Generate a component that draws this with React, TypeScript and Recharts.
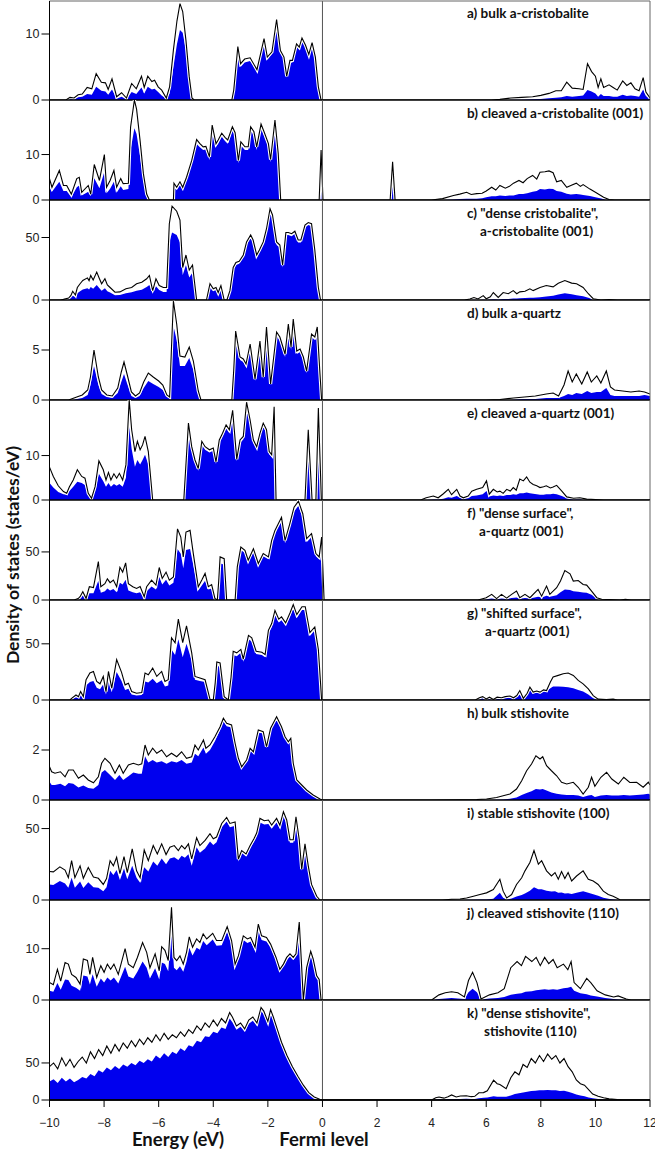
import React from 'react';
import { ComposedChart, Area, Line, XAxis, YAxis, ReferenceLine } from 'recharts';

// ---------- data (energy in eV, total DOS, partial DOS) ----------
const aE = [-10, -9.4, -9.25, -9.1, -8.95, -8.8, -8.62, -8.45, -8.29, -8.1,
  -7.95, -7.85, -7.71, -7.54, -7.36, -7.18, -6.99, -6.82, -6.63, -6.53,
  -6.4, -6.25, -6.15, -6.02, -5.89, -5.72, -5.6, -5.46, -5.33, -5.22,
  -5.12, -5.0, -4.88, -4.78, -4.7, -3.32, -3.25, -3.1, -3.0, -2.85,
  -2.65, -2.4, -2.14, -2.02, -1.85, -1.68, -1.54, -1.41, -1.31, -1.19,
  -1.1, -0.95, -0.85, -0.75, -0.62, -0.5, -0.38, -0.26, -0.15, -0.05,
  6.2, 6.5, 6.9, 7.3, 7.7, 8.0, 8.3, 8.55, 8.75, 8.95,
  9.15, 9.4, 9.55, 9.71, 9.86, 10.0, 10.1, 10.2, 10.3, 10.5,
  10.65, 10.8, 11.0, 11.15, 11.3, 11.45, 11.6, 11.75, 11.85, 12];
const aT = [0, 0, 0.4, 0.3, 0.8, 0.9, 1.9, 1.7, 4.0, 2.7,
  2.6, 1.6, 3.2, 0.5, 1.1, 0.3, 2.5, 1.7, 3.6, 1.9,
  3.6, 2.8, 3.0, 2.0, 1.5, 0.3, 2.0, 7.6, 12, 14.6,
  13.4, 9, 3.5, 0.3, 0, 0, 1.5, 8.1, 5.5, 6.2,
  6.4, 4.6, 9.3, 6.5, 7.3, 12.2, 7.5, 6.5, 3.6, 6.0,
  6.0, 8.5, 8.0, 9.4, 8.3, 6.9, 8.7, 6.5, 2.0, 0,
  0, 0.1, 0.3, 0.4, 0.5, 0.7, 1.0, 1.4, 1.4, 2.7,
  1.8, 1.7, 1.6, 5.5, 4.3, 3.6, 1.9, 3.2, 1.9, 2.3,
  1.9, 1.5, 2.9, 2.2, 2.6, 1.7, 1.4, 3.4, 1.2, 0.3];
const aB = [0, 0, 0.2, 0.1, 0.4, 0.5, 0.9, 0.8, 2.0, 1.4,
  1.3, 0.8, 1.6, 0.2, 0.5, 0.1, 1.2, 0.9, 1.9, 1.0,
  2.0, 1.6, 1.7, 1.2, 0.7, 0.2, 1.0, 5.0, 8.5, 10.6,
  10.2, 7.5, 3.0, 0.2, 0, 0, 1.3, 7.4, 5.0, 5.7,
  5.9, 4.3, 8.8, 6.1, 7.0, 11.8, 7.1, 6.2, 3.4, 5.6,
  5.7, 8.1, 7.6, 9.0, 7.9, 6.6, 8.4, 6.2, 1.9, 0,
  0, 0, 0.02, 0.05, 0.1, 0.15, 0.25, 0.35, 0.4, 0.6,
  0.5, 0.6, 0.7, 1.5, 1.3, 1.0, 0.5, 0.9, 0.6, 0.6,
  0.5, 0.5, 0.8, 0.6, 0.7, 0.6, 0.5, 1.6, 0.6, 0.2];

const bE = [-10, -9.91, -9.64, -9.49, -9.37, -9.2, -9.0, -8.91, -8.82, -8.58,
  -8.49, -8.36, -8.17, -7.99, -7.91, -7.78, -7.64, -7.54, -7.39, -7.3,
  -7.11, -7.03, -6.89, -6.81, -6.68, -6.56, -6.44, -6.34, -5.46, -5.44,
  -5.34, -5.22, -5.12, -4.98, -4.79, -4.61, -4.49, -4.37, -4.27, -4.14,
  -4.04, -3.9, -3.82, -3.69, -3.57, -3.47, -3.3, -3.2, -3.08, -2.99,
  -2.84, -2.72, -2.63, -2.51, -2.41, -2.25, -2.14, -1.98, -1.9, -1.74,
  -1.62, -1.53, -0.12, -0.05, 0.02, 2.48, 2.57, 2.66, 4.0, 4.4,
  4.8, 5.03, 5.28, 5.45, 5.65, 5.85, 6.0, 6.2, 6.35, 6.5,
  6.7, 6.85, 7.0, 7.2, 7.35, 7.5, 7.7, 7.85, 7.97, 8.15,
  8.3, 8.45, 8.58, 8.75, 8.95, 9.1, 9.3, 9.45, 9.55, 9.8,
  10.0, 10.3, 10.5, 10.7, 12];
const bT = [4.7, 2.8, 6.5, 3.2, 3.2, 1.3, 4.7, 5.0, 1.7, 3.2,
  1.3, 7.8, 4.3, 10, 2.8, 4.3, 6.5, 2.8, 4.7, 3.6,
  3.7, 16, 22, 20, 13, 5.8, 1.3, 0, 0, 3.7,
  2.8, 4.0, 2.8, 5.0, 8.7, 13.3, 12.4, 11.7, 11.8, 9.5,
  16.5, 12.4, 13.2, 14.7, 13.8, 13.2, 16.1, 14.8, 8.7, 12.8,
  11.7, 11.7, 16.1, 15, 11.7, 16.7, 15, 12.4, 8.9, 17.6,
  10.2, 0, 0, 11, 0, 0, 8.4, 0, 0, 0.3,
  1.0, 1.3, 1.7, 1.2, 1.4, 1.5, 2.0, 2.8, 2.2, 3.2,
  2.6, 3.0, 3.7, 4.3, 3.8, 4.7, 5.4, 4.6, 6.1, 6.2,
  6.4, 6.0, 4.0, 4.3, 2.8, 3.2, 3.7, 3.0, 3.4, 2.4,
  1.7, 0.6, 0.1, 0, 0];
const bB = [2.8, 1.8, 4.0, 2.0, 2.0, 0.6, 2.8, 3.2, 1.0, 1.8,
  0.8, 4.8, 2.6, 6.2, 1.5, 2.5, 4.0, 1.6, 3.0, 2.2,
  2.4, 11, 15.8, 14.5, 9.5, 4.2, 1.0, 0, 0, 3.0,
  2.3, 3.3, 2.3, 4.4, 8.0, 12.3, 11.6, 11.0, 11.1, 8.8,
  15.5, 11.7, 12.4, 13.9, 13.0, 12.4, 15.3, 14.0, 8.1, 12.0,
  11.0, 11.0, 15.3, 14.2, 11.0, 15.9, 14.2, 11.7, 8.3, 16.8,
  9.6, 0, 0, 10.8, 0, 0, 8.4, 0, 0, 0,
  0.1, 0.2, 0.3, 0.3, 0.3, 0.4, 0.6, 0.8, 0.8, 1.0,
  0.9, 1.0, 1.0, 1.3, 1.3, 1.5, 1.8, 2.0, 2.4, 2.3,
  2.5, 2.4, 2.0, 1.8, 1.4, 1.2, 1.3, 1.2, 1.1, 0.9,
  0.6, 0.2, 0, 0, 0];

const cE = [-10, -9.6, -9.49, -9.3, -9.22, -9.15, -9.05, -8.98, -8.88, -8.78,
  -8.61, -8.55, -8.49, -8.4, -8.27, -8.17, -8.09, -7.97, -7.88, -7.78,
  -7.6, -7.42, -7.2, -6.99, -6.81, -6.62, -6.44, -6.34, -6.22, -6.1,
  -5.98, -5.83, -5.71, -5.61, -5.51, -5.34, -5.22, -5.12, -5.0, -4.88,
  -4.76, -4.61, -4.25, -4.12, -4.0, -3.9, -3.82, -3.72, -3.6, -3.5,
  -3.39, -3.27, -3.17, -3.05, -2.9, -2.78, -2.63, -2.54, -2.41, -2.31,
  -2.17, -2.05, -1.92, -1.83, -1.68, -1.56, -1.46, -1.34, -1.25, -1.13,
  -1.01, -0.89, -0.79, -0.64, -0.52, -0.4, -0.28, -0.15, -0.07, 5.2,
  5.4, 5.55, 5.7, 5.89, 6.0, 6.15, 6.26, 6.44, 6.62, 6.81,
  6.99, 7.12, 7.23, 7.42, 7.6, 7.72, 7.97, 8.2, 8.45, 8.64,
  8.88, 9.13, 9.31, 9.55, 9.74, 9.92, 10.2, 10.5, 10.8, 12];
const cT = [0, 0, 0.5, 1.5, 3.5, 7.0, 4.0, 10, 13, 15.6,
  17.7, 15.5, 19.6, 16, 22.3, 17, 13, 17, 12, 10,
  6.2, 6.5, 9, 10, 13, 14.2, 17, 19.6, 7.5, 17,
  11.6, 10, 10, 61, 75, 71, 64, 26, 36, 24,
  28, 0, 0, 13, 9, 10, 6, 11.6, 0, 0,
  7.5, 26, 30, 31, 36, 46.5, 52, 48, 36, 40,
  46.5, 57, 73, 68, 46.5, 44, 28, 54, 54, 53,
  55, 48, 48, 60, 62, 61, 40, 10, 0, 0,
  0.8, 2.0, 0.8, 3.5, 1.0, 2.5, 6.0, 2.0, 6.0, 5.0,
  7.5, 5.0, 6.5, 7.0, 9.0, 7.5, 10, 11.6, 10.5, 13.4,
  15.6, 13.5, 13, 10, 5, 1.0, 0, 0.3, 0, 0];
const cB = [0, 0, 0.3, 0.8, 1.8, 3.5, 2.5, 5.5, 7, 8.5,
  9.5, 8.5, 10.5, 9, 12, 9.5, 7.5, 9.5, 7, 6,
  3.8, 4, 5.5, 6.2, 7.5, 8.3, 10.5, 12, 5, 11,
  8, 6.5, 6.5, 46, 54, 52, 46, 20, 28, 18,
  22, 0, 0, 10, 7, 8, 5, 9.5, 0, 0,
  6.5, 24, 28, 29, 34, 44, 50, 46, 34, 38,
  44, 55, 71, 66, 44, 42, 26, 52, 52, 51,
  53, 46, 46, 58, 60, 59, 38, 9, 0, 0,
  0.1, 0.2, 0.1, 0.3, 0.3, 0.4, 0.6, 0.5, 0.8, 0.9,
  1.2, 1.2, 1.4, 1.6, 1.8, 1.8, 2.2, 2.8, 3.4, 4.4,
  5.4, 4.6, 3.8, 3.0, 1.8, 0.5, 0, 0, 0, 0];

const dE = [-10, -9.3, -9.0, -8.8, -8.6, -8.5, -8.37, -8.21, -8.09, -7.9,
  -7.7, -7.5, -7.37, -7.27, -7.15, -7.0, -6.85, -6.7, -6.55, -6.38,
  -6.2, -6.0, -5.85, -5.7, -5.6, -5.52, -5.46, -5.34, -5.22, -5.04,
  -4.88, -4.73, -4.55, -4.45, -3.32, -3.25, -3.18, -3.02, -2.9, -2.8,
  -2.65, -2.47, -2.29, -2.17, -2.05, -1.9, -1.68, -1.56, -1.37, -1.25,
  -1.15, -1.07, -0.94, -0.82, -0.7, -0.58, -0.4, -0.28, -0.19, -0.1,
  -0.03, 6.0, 6.5, 7.0, 7.4, 7.8, 8.2, 8.45, 8.65, 8.85,
  9.0, 9.15, 9.3, 9.5, 9.7, 9.85, 10.05, 10.2, 10.4, 10.55,
  10.7, 11.0, 11.3, 11.6, 11.8, 12];
const dT = [0, 0, 0.3, 0.5, 1.0, 2.3, 5.0, 2.3, 1.0, 0.5,
  0.4, 1.2, 2.8, 3.8, 2.5, 0.8, 0.4, 0.7, 1.8, 2.7,
  2.3, 1.9, 1.5, 0.5, 0.3, 6, 9.9, 7.6, 4.4, 4.3,
  5.3, 3.9, 0.9, 0, 0, 3.0, 6.9, 4.3, 4.1, 3.6,
  5.6, 2.1, 5.9, 2.3, 7.3, 1.6, 6.8, 6.3, 4.6, 7.6,
  5.3, 8.1, 4.9, 5.1, 4.3, 2.9, 6.6, 6.3, 7.3, 3.0,
  0, 0, 0.05, 0.2, 0.3, 0.4, 0.6, 0.7, 0.4, 1.5,
  2.9, 1.8, 2.6, 1.6, 2.8, 1.8, 2.4, 1.7, 2.9, 1.3,
  1.0, 0.9, 0.8, 0.9, 0.8, 0.6];
const dB = [0, 0, 0.1, 0.2, 0.5, 1.5, 3.4, 1.5, 0.6, 0.3,
  0.2, 0.7, 1.8, 2.6, 1.6, 0.4, 0.2, 0.4, 1.2, 1.9,
  1.6, 1.3, 1.0, 0.3, 0.2, 5, 7.4, 6.0, 3.4, 3.4,
  4.2, 3.0, 0.6, 0, 0, 2.8, 6.5, 4.0, 3.8, 3.3,
  5.3, 1.9, 5.5, 2.1, 6.9, 1.5, 6.4, 5.9, 4.3, 7.2,
  5.0, 7.7, 4.6, 4.8, 4.0, 2.7, 6.3, 6.0, 7.0, 2.8,
  0, 0, 0, 0.05, 0.1, 0.1, 0.2, 0.2, 0.2, 0.4,
  0.6, 0.5, 0.7, 0.6, 0.9, 0.7, 0.8, 0.8, 1.2, 0.5,
  0.4, 0.4, 0.4, 0.4, 0.5, 0.4];

const eE = [-10, -9.86, -9.68, -9.49, -9.37, -9.27, -9.13, -8.98, -8.82, -8.7,
  -8.58, -8.46, -8.33, -8.19, -8.03, -7.93, -7.84, -7.75, -7.64, -7.54,
  -7.44, -7.32, -7.2, -7.08, -6.99, -6.87, -6.78, -6.68, -6.59, -6.5,
  -6.38, -6.22, -5.08, -4.91, -4.79, -4.67, -4.55, -4.42, -4.3, -4.14,
  -4.0, -3.9, -3.78, -3.66, -3.53, -3.41, -3.29, -3.14, -3.02, -2.9,
  -2.78, -2.65, -2.53, -2.41, -2.29, -2.17, -2.05, -1.95, -1.86, -1.77,
  -1.7, -0.64, -0.52, -0.38, -0.24, -0.15, -0.04, 3.6, 3.8, 4.06,
  4.24, 4.43, 4.61, 4.73, 4.92, 5.04, 5.16, 5.34, 5.47, 5.65,
  5.87, 6.01, 6.11, 6.26, 6.4, 6.5, 6.62, 6.75, 6.88, 6.99,
  7.1, 7.23, 7.36, 7.48, 7.6, 7.72, 7.85, 7.97, 8.1, 8.2,
  8.35, 8.45, 8.58, 8.77, 8.95, 9.2, 9.43, 9.68, 10.0, 10.3, 12];
const eT = [7.4, 5.3, 3.2, 1.9, 1.5, 3.0, 4.5, 6.8, 5.3, 4.9,
  1.5, 0.4, 3.0, 8.8, 6.8, 4.5, 6.2, 4.5, 5.9, 4.9,
  6.0, 4.5, 7.9, 22.5, 15.8, 10.9, 13.2, 11.3, 12.4, 14.3,
  10.9, 0, 0, 17.3, 12, 9, 7.1, 13.2, 12, 11.3,
  11.7, 8.6, 13.5, 15, 16.9, 15.8, 20.2, 9.2, 13.5, 14.3,
  22, 18, 13.5, 12, 15, 17.3, 15.8, 10.9, 10.2, 21,
  0, 0, 15.8, 0, 0, 20.7, 0, 0, 0.5, 0.9,
  0.5, 1.4, 2.4, 1.2, 2.4, 0.9, 0.5, 0.9, 2.0, 2.4,
  2.8, 4.3, 1.3, 2.4, 1.8, 2.0, 1.5, 2.4, 2.0, 2.8,
  2.2, 4.7, 4.3, 5.2, 4.0, 3.5, 3.2, 2.8, 3.0, 3.2,
  2.7, 2.9, 3.3, 2.0, 0.7, 0.4, 0.5, 0.2, 0.1, 0, 0];
const eB = [3.8, 2.8, 1.8, 1.3, 1.2, 2.0, 3.0, 4.1, 3.8, 3.4,
  1.0, 0.3, 2.0, 5.9, 4.2, 3.0, 3.8, 3.0, 3.6, 3.2,
  3.6, 3.0, 5.0, 16.5, 11.5, 7.5, 9.0, 8.0, 9.0, 10.2,
  8.0, 0, 0, 16.5, 11.3, 8.4, 6.6, 12.5, 11.3, 10.7,
  11.1, 8.1, 12.8, 14.3, 16.1, 15.0, 19.4, 8.7, 12.8, 13.6,
  21.2, 17.2, 12.8, 11.4, 14.3, 16.5, 15.0, 10.3, 9.7, 20.2,
  0, 0, 15.2, 0, 0, 20, 0, 0, 0, 0.1,
  0.1, 0.3, 0.6, 0.5, 0.9, 0.5, 0.3, 0.4, 0.9, 1.0,
  1.3, 2.0, 0.8, 1.0, 0.9, 1.0, 0.9, 1.1, 1.1, 1.3,
  1.2, 1.5, 1.5, 1.7, 1.5, 1.4, 1.3, 1.2, 1.2, 1.3,
  1.3, 1.4, 1.3, 0.9, 0.4, 0.2, 0.2, 0.1, 0, 0, 0];

const fE = [-10, -9.1, -8.95, -8.88, -8.78, -8.66, -8.54, -8.39, -8.21, -8.12,
  -7.97, -7.88, -7.78, -7.66, -7.54, -7.42, -7.32, -7.21, -7.11, -6.95,
  -6.81, -6.68, -6.53, -6.44, -6.26, -6.1, -5.98, -5.87, -5.73, -5.61,
  -5.46, -5.31, -5.19, -5.1, -5.0, -4.85, -4.73, -4.55, -4.42, -4.3,
  -4.18, -4.06, -3.94, -3.85, -3.8, -3.75, -3.6, -3.51, -3.2, -3.12,
  -2.99, -2.84, -2.72, -2.53, -2.35, -2.17, -1.98, -1.86, -1.74, -1.5,
  -1.37, -1.2, -1.04, -0.88, -0.72, -0.58, -0.4, -0.24, -0.12, -0.03,
  0.06, 5.7, 6.0, 6.2, 6.38, 6.56, 6.75, 6.93, 7.11, 7.23,
  7.42, 7.6, 7.9, 8.03, 8.21, 8.33, 8.58, 8.72, 8.88, 9.07,
  9.19, 9.37, 9.55, 9.68, 9.86, 10.05, 10.23, 10.5, 10.9, 11.1,
  11.3, 12];
const fT = [0, 0, 1.5, 3.4, 8.6, 1.7, 13.8, 13, 40, 13.8,
  17, 22, 18, 20.7, 13.8, 34, 29, 38.6, 17, 13.8,
  12, 14, 3.4, 13.8, 20.7, 15.5, 33.8, 22.4, 29, 20.7,
  24, 74, 65.5, 44.8, 70.7, 72.4, 48, 13.8, 20.7, 27.6,
  13.8, 16, 1.7, 0, 20, 44.8, 43, 0, 0, 34.5,
  55, 51.7, 41.4, 53.4, 38, 48.3, 44.8, 62, 72.4, 86,
  62, 79, 96.6, 102.8, 89.7, 63.8, 69, 48.3, 44.8, 65.5,
  0, 0, 2.4, 5.9, 1.5, 5.9, 2.0, 5.9, 9.3, 2.4,
  5.9, 2.4, 11, 4, 14.5, 5.9, 12.8, 19.7, 30.7, 27.2,
  19.7, 20.3, 16.2, 15.5, 9.3, 2.4, 0.7, 0.5, 0, 0.7,
  0, 0];
const fB = [0, 0, 0.5, 1.5, 5, 0.8, 7, 7, 20, 7.5,
  9, 12, 10, 11.5, 8, 18, 16, 21, 10, 8,
  7, 8, 2, 9, 14, 11, 24, 16, 21, 15,
  18, 53, 48, 33, 52, 53, 36, 10, 15, 20,
  11, 12, 1, 0, 18, 38, 37, 0, 0, 32,
  52, 49, 39, 50.5, 36, 45.5, 42.5, 59, 69, 82,
  59, 75, 92, 98, 85, 60, 65.5, 45.5, 42.5, 62,
  0, 0, 0.8, 1.5, 0.8, 1.5, 1.0, 2.0, 2.5, 1.2,
  2.0, 1.5, 3.5, 2.5, 4.5, 3.5, 5, 8, 10.8, 10.5,
  9, 8.5, 7.8, 7.5, 5.5, 1.5, 0.3, 0.2, 0, 0,
  0, 0];

const gE = [-10, -9.25, -9.19, -9.03, -8.94, -8.86, -8.76, -8.66, -8.52, -8.39,
  -8.27, -8.15, -8.03, -7.93, -7.84, -7.72, -7.54, -7.36, -7.23, -7.11,
  -6.99, -6.81, -6.62, -6.5, -6.38, -6.22, -6.07, -5.89, -5.77, -5.65,
  -5.53, -5.4, -5.28, -5.12, -4.98, -4.79, -4.67, -4.49, -4.3, -4.12,
  -4.0, -3.93, -3.87, -3.75, -3.6, -3.45, -3.35, -3.27, -3.14, -2.99,
  -2.9, -2.71, -2.59, -2.43, -2.22, -2.1, -1.98, -1.86, -1.74, -1.6,
  -1.5, -1.35, -1.19, -1.07, -0.94, -0.75, -0.63, -0.46, -0.28, -0.15,
  -0.03, 5.6, 5.75, 5.87, 6.0, 6.12, 6.26, 6.4, 6.56, 6.7,
  6.87, 7.0, 7.12, 7.23, 7.36, 7.5, 7.6, 7.72, 7.85, 7.97,
  8.1, 8.21, 8.35, 8.45, 8.64, 8.82, 9.0, 9.19, 9.37, 9.55,
  9.74, 9.92, 10.1, 10.4, 10.65, 10.8, 12];
const gT = [0, 0, 1.5, 4.5, 3, 7.5, 3, 18, 24, 25.4,
  16.5, 14.4, 21, 7.5, 25.4, 10.5, 36, 24.6, 13.5, 15,
  7.5, 6, 6.6, 24, 22.5, 28.4, 21, 25.4, 16.5, 18,
  55.4, 50.9, 72, 51, 66, 42, 21, 19.5, 18, 0.6,
  0, 15, 33.8, 33, 3, 0, 20, 43.4, 42, 45,
  36.5, 57.5, 55.4, 43.4, 42.5, 40.4, 62, 68, 79.7, 72,
  74, 68.6, 77.5, 85, 76, 83, 83, 60, 65, 45,
  0, 0, 2.0, 3.0, 1.0, 2.5, 0.5, 2.5, 2.0, 3.0,
  3.5, 2.0, 4.0, 8.4, 1.5, 6, 11.4, 7, 8, 7,
  9, 8.4, 16, 20.4, 21.9, 23.4, 24, 21.9, 17.4, 14.4,
  9.9, 3.9, 0.8, 0.3, 0.8, 0, 0];
const gB = [0, 0, 0.8, 2.5, 1.5, 4.5, 1.5, 13, 16, 17,
  11, 9.5, 14, 5, 17, 7, 25, 17, 9, 10,
  5, 4, 4.5, 16.5, 15.5, 19, 15, 17.5, 12, 13,
  45, 40, 54, 38, 50, 35, 18, 17, 16, 0.5,
  0, 14, 30, 30, 2.5, 0, 18, 40, 39, 42,
  34, 54, 52, 41, 40, 38, 59, 65, 76, 69,
  71, 66, 74, 82, 73, 80, 80, 57, 62, 43,
  0, 0, 1.5, 2.5, 0.5, 1.8, 0.3, 1.8, 1.5, 2.2,
  2.5, 1.5, 3.0, 5, 1.0, 4, 9.5, 6, 6.5, 6.5,
  7.5, 8, 10.5, 12, 12, 11.8, 11.4, 10.5, 8.8, 7.5,
  5.0, 1.5, 0.2, 0, 0, 0, 0];

const hE = [-10, -9.92, -9.8, -9.6, -9.43, -9.3, -9.13, -8.94, -8.76, -8.58,
  -8.39, -8.21, -8.09, -7.97, -7.78, -7.6, -7.44, -7.3, -7.11, -6.93,
  -6.74, -6.62, -6.5, -6.38, -6.22, -6.07, -5.89, -5.71, -5.53, -5.34,
  -5.16, -4.98, -4.79, -4.67, -4.55, -4.36, -4.27, -4.12, -3.94, -3.75,
  -3.63, -3.51, -3.33, -3.2, -3.08, -2.96, -2.78, -2.65, -2.53, -2.35,
  -2.17, -2.05, -1.9, -1.68, -1.5, -1.37, -1.25, -1.16, -1.07, -0.94,
  -0.76, -0.58, -0.34, -0.09, 0, 4.0, 5.0, 5.65, 6.01, 6.38,
  6.62, 6.87, 7.11, 7.3, 7.48, 7.66, 7.82, 7.97, 8.07, 8.21,
  8.39, 8.58, 8.76, 8.95, 9.19, 9.37, 9.55, 9.74, 9.86, 9.98,
  10.2, 10.41, 10.6, 10.84, 11.04, 11.26, 11.51, 11.75, 11.94, 12];
const hT = [1.33, 1.13, 1.07, 1.13, 0.93, 1.2, 1.2, 0.87, 1.0, 0.8,
  0.69, 0.93, 1.47, 1.67, 1.47, 1.07, 1.4, 1.07, 1.4, 1.47,
  1.4, 1.45, 2.2, 1.8, 2.07, 1.87, 2.0, 1.73, 1.87, 1.73,
  1.93, 1.67, 1.73, 2.2, 2.0, 2.4, 2.07, 2.2, 2.53, 2.93,
  3.27, 3.07, 3.0, 2.27, 1.67, 1.33, 1.6, 2.07, 1.93, 2.8,
  2.73, 2.13, 2.87, 3.33, 2.93, 2.53, 2.33, 2.47, 1.47, 0.8,
  0.6, 0.4, 0.2, 0.04, 0, 0, 0.01, 0.02, 0.04, 0.1,
  0.17, 0.24, 0.44, 0.77, 1.17, 1.44, 1.77, 1.64, 1.73, 1.37,
  1.17, 0.97, 0.71, 0.64, 0.71, 0.51, 0.24, 0.51, 0.91, 0.55,
  0.91, 1.11, 0.84, 0.64, 0.91, 0.7, 0.71, 0.51, 0.71, 0.6];
const hB = [0.73, 0.6, 0.6, 0.65, 0.55, 0.68, 0.65, 0.5, 0.58, 0.48,
  0.45, 0.6, 1.1, 1.2, 1.0, 0.8, 1.0, 0.8, 0.95, 1.1,
  1.05, 1.05, 1.75, 1.5, 1.6, 1.5, 1.55, 1.45, 1.55, 1.5,
  1.6, 1.45, 1.5, 1.85, 1.75, 2.1, 1.85, 2.0, 2.35, 2.8,
  3.15, 2.95, 2.9, 2.2, 1.62, 1.3, 1.55, 2.0, 1.88, 2.72,
  2.65, 2.07, 2.8, 3.25, 2.85, 2.45, 2.27, 2.4, 1.43, 0.78,
  0.58, 0.39, 0.19, 0.04, 0, 0, 0, 0, 0, 0.01,
  0.02, 0.05, 0.1, 0.2, 0.28, 0.35, 0.44, 0.42, 0.44, 0.38,
  0.3, 0.25, 0.22, 0.2, 0.2, 0.18, 0.12, 0.18, 0.2, 0.12,
  0.18, 0.2, 0.18, 0.18, 0.2, 0.18, 0.2, 0.22, 0.25, 0.22];

const iE = [-10, -9.86, -9.62, -9.43, -9.31, -9.19, -9.07, -8.88, -8.76, -8.58,
  -8.39, -8.21, -8.03, -7.91, -7.78, -7.66, -7.54, -7.42, -7.27, -7.15,
  -6.97, -6.81, -6.68, -6.53, -6.38, -6.2, -6.05, -5.89, -5.73, -5.59,
  -5.43, -5.28, -5.16, -5.04, -4.91, -4.79, -4.61, -4.49, -4.3, -4.12,
  -4.0, -3.88, -3.69, -3.51, -3.39, -3.2, -3.08, -2.96, -2.8, -2.65,
  -2.51, -2.41, -2.29, -2.13, -1.98, -1.86, -1.68, -1.56, -1.43, -1.31,
  -1.19, -1.07, -0.97, -0.85, -0.76, -0.64, -0.52, -0.4, -0.21, -0.09,
  4.4, 4.73, 5.04, 5.28, 5.53, 5.77, 6.01, 6.26, 6.5, 6.62,
  6.75, 6.93, 7.11, 7.3, 7.42, 7.6, 7.75, 7.91, 8.03, 8.21,
  8.39, 8.52, 8.64, 8.76, 8.88, 9.0, 9.13, 9.31, 9.55, 9.74,
  9.92, 10.1, 10.29, 10.47, 10.65, 10.9, 11.1, 12];
const iT = [19.9, 19.7, 23.2, 20.9, 15.6, 27.5, 15.6, 23.9, 15.2, 22.7,
  16.1, 15.2, 10.9, 15, 27.5, 23.9, 29.9, 18.5, 30.3, 19.2,
  35.8, 20.4, 15.6, 35, 27.5, 38.1, 32.2, 39.3, 31.8, 37,
  38.1, 34.6, 38.1, 35.8, 39.3, 28.7, 43.6, 38.1, 41.7, 46.4,
  42.9, 44.1, 53.6, 57.8, 53.6, 54.7, 28.7, 34.6, 32.2, 38.1,
  42.9, 46.9, 57.1, 55.5, 56, 52.4, 57.1, 52.4, 61.8, 56,
  42.2, 42.2, 58.3, 42.2, 21.6, 39.3, 23.9, 10.9, 2.6, 0,
  0, 0.5, 0.7, 1.4, 2.6, 3.8, 5, 7.3, 14.5, 6.2,
  1.4, 3.8, 10.9, 15.6, 20.4, 26.3, 34.6, 25.1, 27.5, 20.4,
  16.8, 19.2, 14.5, 19.9, 15, 19.2, 13.3, 16.8, 20.4, 14.5,
  13.3, 10.9, 6.2, 3.8, 2.6, 0.2, 0, 0];
const iB = [10.9, 10.5, 13.3, 11.5, 8.6, 15.6, 8.5, 13, 8.4, 12.5,
  9, 8.6, 6.2, 9, 20.4, 17.5, 21, 14, 22, 14.5,
  24, 15.5, 12, 23, 20, 27, 24, 29, 25, 29,
  30, 28, 31, 29.5, 32, 24, 37, 33, 36, 41,
  38.5, 40.5, 51, 55, 51, 52, 27, 33, 30.5, 36.2,
  40.8, 44.6, 54.3, 52.8, 53.2, 49.8, 54.3, 49.8, 58.7, 53.2,
  40.1, 40.1, 55.4, 40.1, 20.5, 37.3, 22.7, 10.4, 2.5, 0,
  0, 0, 0, 0.1, 0.2, 0.3, 0.4, 0.8, 5, 1.5,
  0.3, 1.0, 2.5, 3.5, 4.5, 6.5, 9, 7.5, 7.5, 6.5,
  6.0, 6.2, 5.0, 5.2, 4.5, 4.8, 4.2, 5.0, 6.2, 5.0,
  4.0, 3.0, 1.5, 0.8, 0.3, 0, 0, 0];

const jE = [-10, -9.86, -9.71, -9.59, -9.43, -9.31, -9.19, -9.03, -8.88, -8.76,
  -8.61, -8.52, -8.42, -8.27, -8.12, -8.0, -7.88, -7.76, -7.64, -7.48,
  -7.23, -7.11, -6.93, -6.78, -6.59, -6.44, -6.32, -6.13, -5.98, -5.89,
  -5.77, -5.65, -5.53, -5.44, -5.34, -5.22, -5.1, -4.98, -4.88, -4.76,
  -4.61, -4.49, -4.37, -4.24, -4.02, -3.88, -3.69, -3.49, -3.33, -3.2,
  -3.08, -2.9, -2.75, -2.63, -2.47, -2.35, -2.23, -2.05, -1.9, -1.7,
  -1.56, -1.43, -1.31, -1.19, -1.07, -0.97, -0.85, -0.76, -0.7, -0.58,
  -0.43, -0.34, -0.21, -0.12, -0.05, 4.0, 4.27, 4.5, 4.73, 4.96,
  5.2, 5.35, 5.5, 5.66, 5.81, 6.12, 6.43, 6.66, 6.9, 7.13,
  7.29, 7.44, 7.67, 7.83, 7.98, 8.14, 8.29, 8.45, 8.6, 8.83,
  8.99, 9.11, 9.22, 9.45, 9.68, 9.83, 10.06, 10.36, 10.67, 10.83,
  11.13, 11.3, 12];
const jT = [3.4, 3.0, 6.0, 3.7, 7.3, 7.0, 5.0, 4.4, 3.1, 8.0,
  7.7, 5.0, 8.3, 4.4, 6.7, 5.4, 7.0, 6.0, 7.0, 5.0,
  10.0, 7.0, 6.3, 8.3, 11.2, 9.3, 6.3, 9.0, 5.7, 10.4,
  9.7, 7.7, 18.1, 8.3, 7.7, 8.6, 7.0, 9.3, 12.3, 10.3,
  11.9, 11.2, 12.9, 11.9, 13, 11.6, 11.6, 14.3, 11.6, 7.0,
  8.6, 12.5, 11.9, 12.2, 10.3, 14.8, 12.5, 12.2, 10.9, 8.3,
  6.0, 7.0, 8.3, 9.0, 8.3, 9.0, 15.2, 6.3, 0, 6.3,
  9.5, 8.0, 4.7, 4.0, 0, 0, 1.0, 1.4, 1.6, 1.4,
  0.6, 3.8, 5.4, 3.4, 0.2, 1.0, 1.4, 2.2, 6.3, 7.5,
  6.7, 8.5, 7.5, 8.3, 6.7, 8.3, 7.1, 7.9, 6.3, 7.0,
  5.9, 7.5, 3.4, 2.2, 4.2, 3.4, 1.8, 1.0, 0.6, 0.8,
  0.2, 0, 0];
const jB = [1.8, 1.6, 3.3, 2.0, 4.0, 3.9, 2.8, 2.4, 1.8, 4.8,
  4.6, 3.0, 5.0, 2.6, 4.2, 3.4, 4.4, 3.8, 4.4, 3.2,
  6.5, 4.6, 4.2, 5.5, 7.5, 6.3, 4.2, 6.2, 4.0, 7.3,
  7.0, 5.6, 13.5, 6.3, 5.8, 6.6, 5.5, 7.5, 10.2, 8.7,
  10.2, 9.8, 11.5, 10.7, 11.8, 10.6, 10.7, 13.3, 10.8, 6.5,
  8.0, 11.7, 11.1, 11.4, 9.6, 13.9, 11.7, 11.4, 10.2, 7.8,
  5.6, 6.6, 7.8, 8.5, 7.8, 8.5, 14.5, 6.0, 0, 6.0,
  9.1, 7.6, 4.5, 3.8, 0, 0, 0.2, 0.3, 0.4, 0.3,
  0.2, 1.5, 2.2, 1.5, 0.1, 0.3, 0.4, 0.6, 1.0, 1.2,
  1.3, 1.6, 1.7, 1.9, 2.0, 2.1, 2.0, 2.1, 2.0, 2.3,
  2.4, 2.6, 1.8, 1.3, 1.1, 0.9, 0.7, 0.4, 0.2, 0.1,
  0, 0, 0];

const kE = [-10, -9.85, -9.7, -9.55, -9.4, -9.25, -9.1, -8.95, -8.8, -8.65,
  -8.5, -8.35, -8.2, -8.05, -7.9, -7.75, -7.6, -7.45, -7.3, -7.15,
  -7.0, -6.85, -6.7, -6.55, -6.4, -6.25, -6.1, -5.95, -5.8, -5.65,
  -5.5, -5.35, -5.2, -5.05, -4.9, -4.75, -4.6, -4.45, -4.3, -4.15,
  -4.0, -3.85, -3.7, -3.55, -3.4, -3.3, -3.15, -3.0, -2.85, -2.7,
  -2.55, -2.4, -2.25, -2.15, -2.0, -1.9, -1.8, -1.65, -1.5, -1.3,
  -1.1, -0.9, -0.7, -0.5, -0.3, -0.1, 0, 4.0, 4.15, 4.27,
  4.45, 4.6, 4.73, 4.9, 5.05, 5.27, 5.45, 5.58, 5.73, 5.9,
  6.04, 6.27, 6.4, 6.5, 6.73, 6.9, 7.05, 7.2, 7.35, 7.5,
  7.65, 7.8, 7.95, 8.1, 8.25, 8.4, 8.55, 8.7, 8.85, 9.0,
  9.15, 9.3, 9.45, 9.6, 9.75, 9.9, 10.1, 10.3, 10.5, 10.8,
  11, 12];
const kT = [45, 50, 42, 57, 46, 55, 44, 52, 58, 50,
  65, 56, 68, 60, 73, 63, 75, 66, 77, 70,
  80, 72, 82, 75, 84, 78, 88, 80, 90, 82,
  88, 84, 92, 86, 95, 90, 100, 94, 104, 98,
  108, 100, 110, 104, 118, 112, 100, 104, 96, 108,
  112, 104, 125, 120, 106, 122, 112, 95, 78, 60,
  45, 32, 20, 10, 4, 1, 0, 0, 3, 4,
  2.5, 4.5, 6.8, 4, 5.5, 5.7, 4.5, 5, 9.7, 10,
  12.5, 26.7, 22, 21, 15.3, 30, 38, 34, 48, 44,
  56, 50, 60, 52, 62, 55, 60, 50, 56, 45,
  38, 27, 22, 20, 14, 8, 5, 3, 1.5, 0.5,
  0, 0];
const kB = [25, 28, 23, 30, 25, 29, 24, 27, 31, 29,
  35, 32, 40, 37, 44, 40, 46, 42, 48, 45,
  50, 47, 53, 50, 55, 52, 60, 56, 63, 58,
  65, 62, 70, 66, 74, 72, 80, 78, 86, 85,
  92, 90, 98, 96, 110, 105, 95, 99, 92, 103,
  107, 100, 120, 116, 102, 117, 108, 91, 75, 58,
  43, 31, 19, 10, 4, 1, 0, 0, 0.5, 1,
  0.8, 1.2, 1.5, 1.2, 1.5, 1.6, 1.4, 1.5, 2.5, 3,
  3.5, 5, 4.5, 4.5, 4.5, 6, 8, 9, 10, 11,
  12, 12.5, 13, 13, 13.5, 13, 13, 12, 12.5, 11,
  9.5, 7.5, 6, 5, 3.5, 2.5, 1.5, 0.8, 0.3, 0,
  0, 0];

const yMax = [15, 22, 80, 10, 22.5, 104, 89, 4, 70, 19.5, 135];
const yTicks = [[0, 10], [0, 10], [0, 50], [0, 5], [0, 10], [0, 50], [0, 50], [0, 2], [0, 50], [0, 10], [0, 50]];
const xTicks = [-10, -8, -6, -4, -2, 0, 2, 4, 6, 8, 10, 12];

const panelLabels: string[][] = [
  ['a) bulk a-cristobalite'],
  ['b) cleaved a-cristobalite (001)'],
  ['c) "dense cristobalite",', 'a-cristobalite (001)'],
  ['d) bulk a-quartz'],
  ['e) cleaved a-quartz (001)'],
  ['f) "dense surface",', 'a-quartz (001)'],
  ['g) "shifted surface",', 'a-quartz (001)'],
  ['h) bulk stishovite'],
  ['i) stable stishovite (100)'],
  ['j) cleaved stishovite (110)'],
  ['k) "dense stishovite",', 'stishovite (110)'],
];
const yTitle = 'Density of states (states/eV)';
const xTitle = 'Energy (eV)';
const fermiTitle = 'Fermi level';

const series = [
  [aE, aT, aB], [bE, bT, bB], [cE, cT, cB], [dE, dT, dB], [eE, eT, eB], [fE, fT, fB],
  [gE, gT, gB], [hE, hT, hB], [iE, iT, iB], [jE, jT, jB], [kE, kT, kB],
];

// ---------- layout ----------
const W = 655;
const PANEL_H = 100;
const AXIS_H = 49;
const BLUE = '#0000ee';
const LABEL_FONT = 'Lato, "Open Sans", sans-serif';
const TICK_FONT = '"Liberation Sans", Arial, sans-serif';
const labelLine2X = [0, 0, 480, 0, 0, 479, 485, 0, 0, 0, 484];

const fmtX = (v: number) => (v < 0 ? '\u2212' + Math.abs(v) : String(v));

function Panel({ idx }: { idx: number }) {
  const [E, T, B] = series[idx];
  const n = Math.min(E.length, T.length, B.length);
  const data = [] as { e: number; t: number; b: number }[];
  for (let i = 0; i < n; i++) data.push({ e: E[i], t: T[i], b: B[i] });
  const last = idx === series.length - 1;
  const first = idx === 0;
  return (
    <ComposedChart
      width={W}
      height={last ? PANEL_H + AXIS_H : PANEL_H}
      data={data}
      margin={{ top: first ? 1 : 0, right: 5, bottom: 0, left: 9.5 }}
    >
      <XAxis
        dataKey="e"
        type="number"
        domain={[-10, 12]}
        ticks={xTicks}
        interval={0}
        allowDataOverflow
        hide={!last}
        height={AXIS_H}
        tickSize={7}
        tickMargin={11}
        tickFormatter={fmtX}
        axisLine={{ stroke: '#000', strokeWidth: 1.5 }}
        tickLine={{ stroke: '#000' }}
        tick={{ fontSize: 12, fill: '#222', fontFamily: TICK_FONT }}
      />
      <YAxis
        type="number"
        domain={[0, yMax[idx]]}
        ticks={yTicks[idx]}
        allowDataOverflow
        width={40}
        tickSize={8}
        interval={0}
        axisLine={{ stroke: '#000' }}
        tickLine={{ stroke: '#000' }}
        tick={{ fontSize: 12.5, fill: '#222', fontFamily: TICK_FONT }}
      />
      <Area dataKey="b" type="linear" fill={BLUE} fillOpacity={1} stroke="none" isAnimationActive={false} />
      <Line dataKey="t" type="linear" stroke="#ffffff" strokeWidth={3.2} dot={false} activeDot={false} isAnimationActive={false} />
      <Line dataKey="t" type="linear" stroke="#000000" strokeWidth={1.1} dot={false} activeDot={false} isAnimationActive={false} />
      <ReferenceLine x={0} stroke="#555" strokeWidth={1} />
      <ReferenceLine x={12} stroke="#666" strokeWidth={1} />
      <ReferenceLine y={0} stroke="#000" strokeWidth={1.5} />
      {first ? <ReferenceLine y={yMax[0]} stroke="#666" strokeWidth={1} /> : null}
    </ComposedChart>
  );
}

export default function App() {
  return (
    <div style={{ position: 'absolute', left: 0, top: 0, width: W, height: 1149, background: '#fff' }}>
      <style>{'.recharts-surface{overflow:visible}'}</style>
      {series.map((_, i) => (
        <div key={i} style={{ height: i === series.length - 1 ? PANEL_H + AXIS_H : PANEL_H }}>
          <Panel idx={i} />
        </div>
      ))}
      <svg
        width={W}
        height={1149}
        style={{ position: 'absolute', left: 0, top: 0, pointerEvents: 'none' }}
      >
        {panelLabels.map((lines, i) => (
          <g key={i} fontFamily={LABEL_FONT} fontWeight={700} fontSize={13.5} fill="#111">
            <text x={467} y={i * PANEL_H + 18}>{lines[0]}</text>
            {lines[1] ? <text x={labelLine2X[i]} y={i * PANEL_H + 36}>{lines[1]}</text> : null}
          </g>
        ))}
        <text
          x={0}
          y={0}
          transform="translate(19, 555) rotate(-90)"
          textAnchor="middle"
          fontFamily={LABEL_FONT}
          fontWeight={700}
          fontSize={17.5}
          fill="#111"
        >
          {yTitle}
        </text>
        <text x={178} y={1146} textAnchor="middle" fontFamily={LABEL_FONT} fontWeight={700} fontSize={18.5} fill="#111">
          {xTitle}
        </text>
        <text x={324} y={1146} textAnchor="middle" fontFamily={LABEL_FONT} fontWeight={700} fontSize={18.5} fill="#111">
          {fermiTitle}
        </text>
      </svg>
    </div>
  );
}
